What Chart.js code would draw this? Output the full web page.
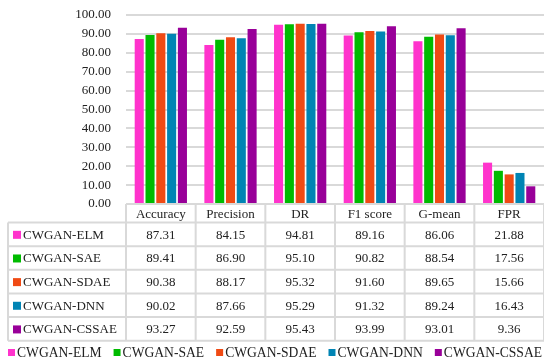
<!DOCTYPE html>
<html><head><meta charset="utf-8">
<script src="https://cdn.jsdelivr.net/npm/chart.js@4/dist/chart.umd.min.js"></script>
<style>html,body{margin:0;padding:0;background:#fff;}#wrap{width:544px;height:362px;}</style>
</head><body><div id="wrap"><canvas id="c" width="544" height="362"></canvas></div>
<script>
const categories = ['Accuracy', 'Precision', 'DR', 'F1 score', 'G-mean', 'FPR'];
const seriesNames = ['CWGAN-ELM', 'CWGAN-SAE', 'CWGAN-SDAE', 'CWGAN-DNN', 'CWGAN-CSSAE'];
const seriesColors = ['#FF33CC', '#00BB00', '#F04A14', '#0084B4', '#990099'];
const elmValues = [87.31, 84.15, 94.81, 89.16, 86.06, 21.88];
const saeValues = [89.41, 86.90, 95.10, 90.82, 88.54, 17.56];
const sdaeValues = [90.38, 88.17, 95.32, 91.60, 89.65, 15.66];
const dnnValues = [90.02, 87.66, 95.29, 91.32, 89.24, 16.43];
const cssaeValues = [93.27, 92.59, 95.43, 93.99, 93.01, 9.36];
const allValues = [elmValues, saeValues, sdaeValues, dnnValues, cssaeValues];

const FONT = '"Liberation Serif", "Times New Roman", serif';
const FS = 13;
const LINE = '#d9d9d9';
const TEXT = '#222222';

const tablePlugin = {
  id: 'tablePlugin',
  afterDraw(chart) {
    const ctx = chart.ctx;
    const ca = chart.chartArea;
    const n = categories.length;
    const colW = (ca.right - ca.left) / n;
    const top = ca.bottom;
    const headerH = 18.5;
    const rowH = 23.65;
    const leftX = 8;
    const tableBottom = top + headerH + rowH * seriesNames.length;
    ctx.save();
    ctx.strokeStyle = LINE;
    ctx.lineWidth = 2;
    ctx.beginPath();
    for (let r = 0; r <= seriesNames.length; r++) {
      const y = top + headerH + r * rowH;
      ctx.moveTo(leftX, y); ctx.lineTo(ca.right, y);
    }
    ctx.moveTo(leftX, top + headerH); ctx.lineTo(leftX, tableBottom);
    for (let c = 0; c <= n; c++) {
      const x = ca.left + c * colW;
      ctx.moveTo(x, top); ctx.lineTo(x, tableBottom);
    }
    ctx.stroke();
    ctx.fillStyle = TEXT;
    ctx.font = FS + 'px ' + FONT;
    ctx.textAlign = 'center';
    ctx.textBaseline = 'middle';
    categories.forEach((cat, i) => {
      const cx = chart.scales.x.getPixelForValue(i);
      ctx.fillText(cat, cx, top + headerH / 2 + 1);
    });
    seriesNames.forEach((name, r) => {
      const cy = top + headerH + r * rowH + rowH / 2 + 1;
      ctx.fillStyle = seriesColors[r];
      ctx.fillRect(13, cy - 4.5, 8, 8);
      ctx.fillStyle = TEXT;
      ctx.textAlign = 'left';
      ctx.fillText(name, 23, cy);
      ctx.textAlign = 'center';
      allValues[r].forEach((v, i) => {
        const cx = chart.scales.x.getPixelForValue(i);
        ctx.fillText(v.toFixed(2), cx, cy);
      });
    });
    ctx.font = '13.6px ' + FONT;
    let x = 8;
    const ly = 353;
    ctx.textAlign = 'left';
    seriesNames.forEach((name, r) => {
      ctx.fillStyle = seriesColors[r];
      ctx.fillRect(x, ly - 4, 7, 7);
      ctx.fillStyle = TEXT;
      ctx.fillText(name, x + 9, ly);
      x += 9 + ctx.measureText(name).width + 12;
    });
    ctx.restore();
  }
};

new Chart(document.getElementById('c'), {
  type: 'bar',
  data: {
    labels: categories,
    datasets: seriesNames.map((name, i) => ({
      label: name,
      data: allValues[i],
      backgroundColor: seriesColors[i],
      borderWidth: 0,
      barPercentage: 0.84,
      categoryPercentage: 0.775
    }))
  },
  options: {
    responsive: false,
    animation: false,
    devicePixelRatio: 1,
    layout: { padding: { top: 15, right: 0, left: 0, bottom: 0 } },
    plugins: { legend: { display: false }, tooltip: { enabled: false } },
    scales: {
      x: {
        ticks: { display: false },
        grid: { display: false },
        border: { display: false },
        afterFit(scale) { scale.height = 158; }
      },
      y: {
        min: 0, max: 100,
        ticks: {
          stepSize: 10,
          autoSkip: false,
          padding: 15,
          color: TEXT,
          font: { family: FONT, size: FS },
          callback: (v) => Number(v).toFixed(2)
        },
        grid: { color: LINE, lineWidth: 2, drawTicks: false },
        border: { display: false },
        afterFit(scale) { scale.width = 126; scale.paddingTop = 8; scale.paddingBottom = 8; }
      }
    }
  },
  plugins: [tablePlugin]
});
</script></body></html>
